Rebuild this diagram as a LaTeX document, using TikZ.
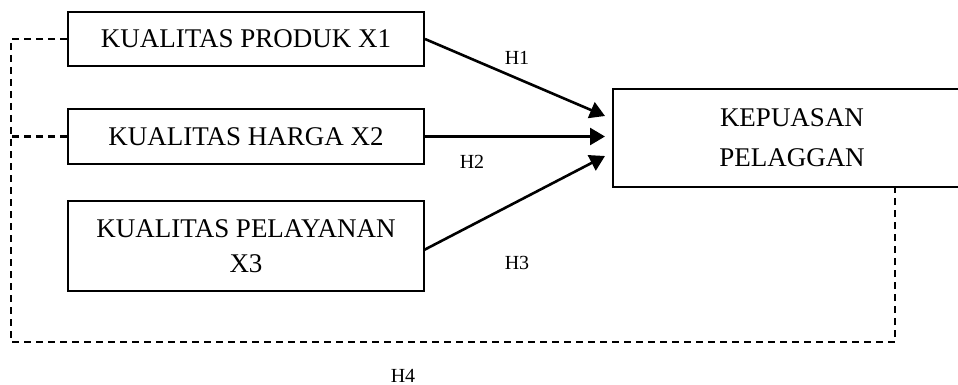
\documentclass[tikz,border=0pt]{standalone}
\usepackage{fontspec}
\setmainfont{Liberation Serif}
\usetikzlibrary{arrows.meta}
\begin{document}
\begin{tikzpicture}[x=1pt,y=-1pt,
  varbox/.style={draw, line width=2pt, rectangle, inner sep=0pt, align=center,
    font=\fontsize{27}{35}\selectfont},
  path arrow/.style={line width=2.6pt, -{Triangle[length=15pt,width=17pt]}},
  link/.style={line width=2.2pt, dash pattern=on 7pt off 5pt},
  hlabel/.style={font=\fontsize{20}{24}\selectfont, inner sep=0pt}]
\useasboundingbox (0,0) rectangle (958,385);
\clip (0,0) rectangle (958,385);

% independent variables
\node[varbox, minimum width=356pt, minimum height=54pt] (x1) at (246,39) {KUALITAS PRODUK X1};
\node[varbox, minimum width=356pt, minimum height=55pt] (x2) at (246,136.5) {KUALITAS HARGA X2};
\node[varbox, minimum width=356pt, minimum height=90pt] (x3) at (246,246) {KUALITAS PELAYANAN\\X3};

% dependent variable
\node[varbox, minimum width=358pt, minimum height=98pt,
  font=\fontsize{27}{40}\selectfont] (y) at (792,138) {KEPUASAN\\PELAGGAN};

% arrow end points on the left side of the dependent box
\coordinate (t1) at (605,116);
\coordinate (t2) at (605,136.5);
\coordinate (t3) at (605,156);
\coordinate (s3) at (424,250);

\draw[path arrow] (x1.east) -- (t1);
\draw[path arrow] (x2.east) -- (t2);
\draw[path arrow] (s3) -- (t3);

% simultaneous path (dashed frame)
\coordinate (c1) at (11,39);
\coordinate (c2) at (11,136.5);
\coordinate (c3) at (11,342);
\coordinate (c4) at (895,342);
\coordinate (c5) at (895,187);
\draw[link] (x1.west) -- (c1) -- (c3) -- (c4) -- (c5);
\draw[link] (x2.west) -- (c2);

% hypothesis labels
\node[hlabel] (h1) at (517,58) {H1};
\node[hlabel] (h2) at (472,162) {H2};
\node[hlabel] (h3) at (517,263) {H3};
\node[hlabel] (h4) at (403,375.5) {H4};
\end{tikzpicture}
\end{document}
